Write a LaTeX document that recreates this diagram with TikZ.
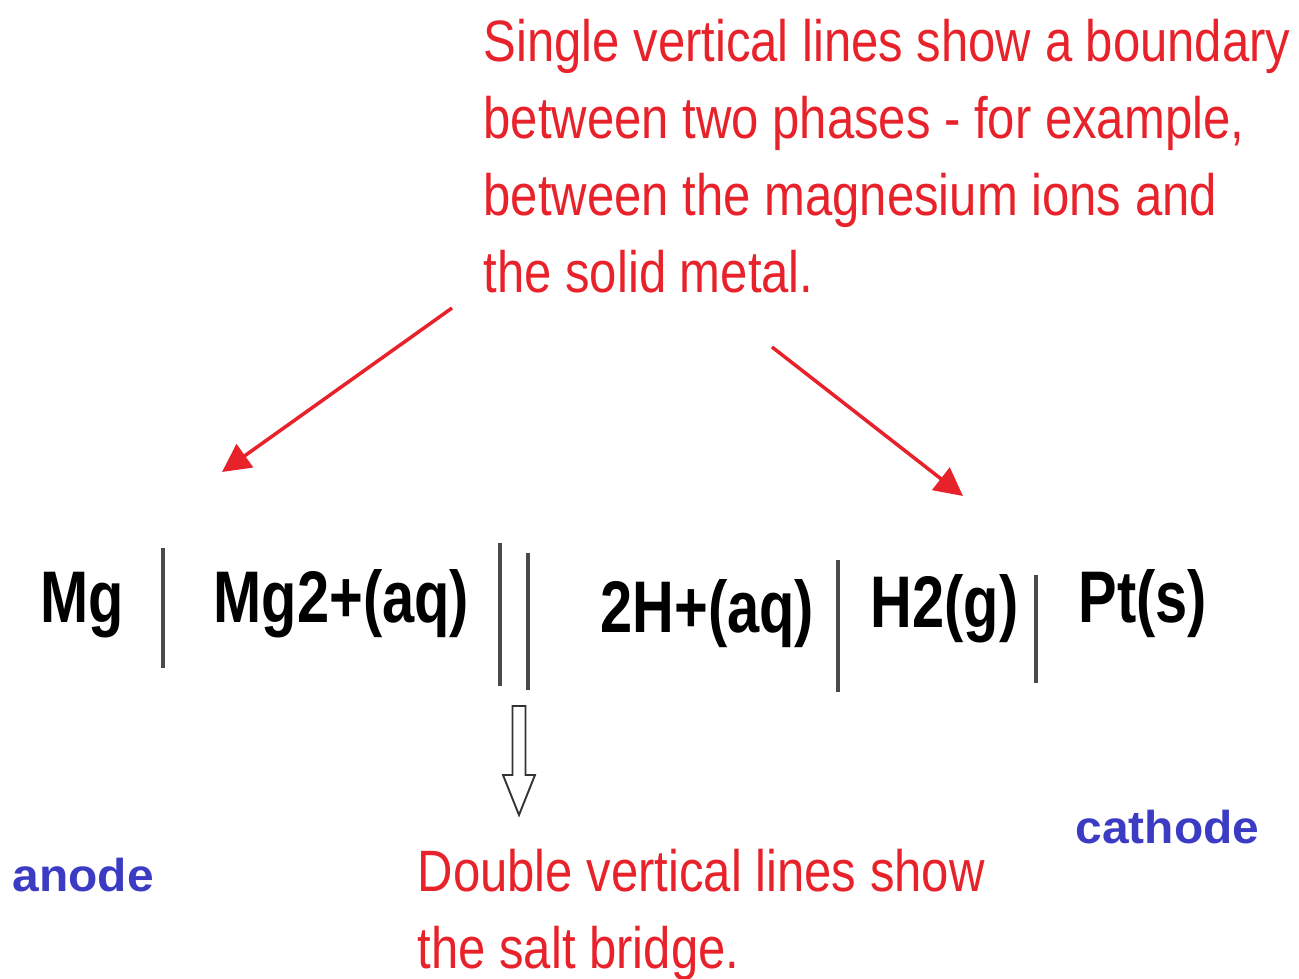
\documentclass[tikz,border=0pt]{standalone}
\usepackage{fontspec}
\usepackage{xcolor}
\usetikzlibrary{arrows.meta}
\newfontfamily\notefont[FakeStretch=0.84]{Liberation Sans}
\newfontfamily\cellfont[FakeStretch=0.79]{Liberation Sans}
\newfontfamily\electrodefont[FakeStretch=1.04]{Liberation Sans}
\definecolor{notered}{HTML}{E8222A}
\definecolor{electrodeblue}{HTML}{3B3BC4}
\definecolor{phasegray}{HTML}{4A4A4A}

\begin{document}
\begin{tikzpicture}[
  x=0.01cm, y=-0.01cm,
  note/.style={text=notered, font=\notefont\fontsize{16.6pt}{21.9pt}\selectfont, align=left, inner sep=0pt, anchor=north west},
  species/.style={font=\cellfont\bfseries\fontsize{20.8pt}{25pt}\selectfont, inner sep=0pt, anchor=base west},
  electrode/.style={text=electrodeblue, font=\electrodefont\bfseries\fontsize{13.1pt}{16pt}\selectfont, inner sep=0pt, anchor=base west},
  phase/.style={draw=phasegray, line width=0.9pt},
  pointer/.style={draw=notered, line width=1pt, -{Triangle[length=8pt, width=8pt]}},
  bridgearrow/.style={draw=black!80, fill=white, line width=0.55pt, line join=miter}
]
\useasboundingbox (0,0) rectangle (1299,978);

% Notes
\node[note] (singlenote) at (483,18) {Single vertical lines show a boundary\\between two phases - for example,\\between the magnesium ions and\\the solid metal.};
\node[note] (doublenote) at (417,848) {Double vertical lines show\\the salt bridge.};

% Cell notation
\node[species] (mg) at (40,622) {Mg};
\node[species] (mgion) at (213,622) {Mg2+(aq)};
\node[species] (hion) at (600,632) {2H+(aq)};
\node[species] (hgas) at (870,627) {H2(g)};
\node[species] (pt) at (1078,622) {Pt(s)};

% Phase boundaries
\draw[phase] (163,548) -- (163,668);
\draw[phase] (500,543) -- (500,686);
\draw[phase] (528,553) -- (528,690);
\draw[phase] (838,560) -- (838,692);
\draw[phase] (1036,575) -- (1036,683);

% Electrodes
\node[electrode] (anode) at (12,891) {anode};
\node[electrode] (cathode) at (1075,843) {cathode};

% Pointers
\coordinate (lefttail) at (452,308);
\coordinate (lefthead) at (222,472);
\coordinate (righttail) at (772,347);
\coordinate (righthead) at (963,496);
\draw[pointer] (lefttail) -- (lefthead);
\draw[pointer] (righttail) -- (righthead);

% Salt bridge arrow
\coordinate (bridgetip) at (519,815);
\draw[bridgearrow] (bridgetip) -- ++(-16,-40) -- ++(9.5,0) -- ++(0,-69) -- ++(13,0) -- ++(0,69) -- ++(9.5,0) -- cycle;

\end{tikzpicture}
\end{document}
